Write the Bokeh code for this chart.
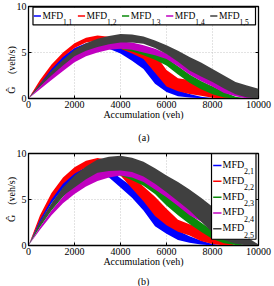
from bokeh.plotting import figure
from bokeh.layouts import column
from bokeh.models import FixedTicker, Range1d
from bokeh.core.properties import value
from bokeh.embed import file_html
from bokeh.resources import INLINE

# Accumulation sample points (veh)
acc = [0, 500, 1000, 1500, 2000, 2500, 3000, 3500, 4000, 4500, 5000,
       5500, 6000, 6500, 7000, 7500, 8000, 8500, 9000, 9500, 10000]

# Panel (a): lower / upper envelope of each MFD scatter band (veh/s)
mfd11_lo = [0, 1.5, 2.9, 4.1, 5.0, 5.5, 5.7, 5.4, 4.9, 4.1, 3.2, 1.6, 0.7, 0.25, 0.1, 0.02, 0, 0, 0, 0, 0]
mfd11_hi = [0, 1.8, 3.4, 4.6, 5.5, 6.0, 6.2, 6.0, 5.6, 5.0, 4.4, 2.9, 1.8, 0.9, 0.5, 0.2, 0.02, 0, 0, 0, 0]
mfd12_lo = [0, 1.6, 3.2, 4.5, 5.5, 6.1, 6.3, 6.0, 5.4, 4.9, 4.3, 2.8, 1.3, 0.8, 0.5, 0.3, 0.07, 0, 0, 0, 0]
mfd12_hi = [0, 2.0, 3.7, 5.0, 6.0, 6.6, 6.85, 6.7, 6.2, 5.9, 5.6, 4.8, 3.1, 2.2, 2.0, 1.7, 1.3, 0.6, 0, 0, 0]
mfd13_lo = [0, 1.3, 2.6, 3.7, 4.5, 5.1, 5.5, 5.6, 5.4, 5.1, 4.7, 4.2, 3.6, 2.6, 1.7, 1.0, 0.45, 0.1, 0, 0, 0]
mfd13_hi = [0, 1.5, 2.9, 4.0, 4.9, 5.5, 5.9, 6.0, 5.9, 5.7, 5.4, 4.9, 4.4, 3.5, 2.6, 1.9, 1.3, 0.7, 0.2, 0, 0]
mfd14_lo = [0, 1.0, 2.0, 3.0, 3.95, 4.6, 5.0, 5.3, 5.4, 5.3, 5.0, 4.7, 4.3, 3.5, 2.6, 1.9, 1.3, 0.6, 0.25, 0, 0]
mfd14_hi = [0, 1.3, 2.6, 3.8, 4.8, 5.5, 5.9, 6.1, 6.2, 6.1, 5.8, 5.4, 4.9, 4.1, 3.3, 2.6, 2.0, 1.4, 0.9, 0.5, 0.2]
mfd15_lo = [0, 1.3, 2.5, 3.6, 4.6, 5.2, 5.6, 5.9, 6.1, 6.1, 5.95, 5.5, 4.85, 4.0, 3.05, 2.4, 1.8, 1.1, 0.45, 0.1, 0]
mfd15_hi = [0, 1.6, 3.0, 4.2, 5.3, 6.0, 6.5, 6.8, 7.0, 6.95, 6.75, 6.3, 5.8, 5.2, 4.5, 3.9, 3.2, 2.5, 1.8, 1.4, 1.05]

# Panel (b)
mfd21_lo = [0, 2.5, 4.6, 6.2, 7.1, 7.7, 7.9, 7.4, 6.3, 5.2, 3.8, 2.1, 1.27, 0.6, 0.3, 0.1, 0, 0, 0, 0, 0]
mfd21_hi = [0, 3.0, 5.2, 6.9, 7.9, 8.5, 8.7, 8.3, 7.3, 6.4, 5.3, 3.8, 2.5, 1.6, 1.0, 0.55, 0.15, 0, 0, 0, 0]
mfd22_lo = [0, 2.8, 5.0, 6.7, 7.8, 8.5, 8.8, 8.5, 7.6, 6.2, 4.8, 3.2, 2.2, 1.5, 1.1, 0.5, 0.15, 0, 0, 0, 0]
mfd22_hi = [0, 3.3, 5.7, 7.4, 8.5, 9.2, 9.5, 9.3, 8.6, 7.5, 6.4, 5.3, 4.0, 2.8, 2.3, 1.9, 1.4, 0.6, 0, 0, 0]
mfd23_lo = [0, 2.0, 3.8, 5.3, 6.4, 7.2, 7.7, 7.8, 7.6, 7.1, 6.5, 5.6, 4.35, 3.3, 2.35, 1.5, 0.7, 0.25, 0.05, 0, 0]
mfd23_hi = [0, 2.4, 4.4, 6.0, 7.2, 8.0, 8.5, 8.6, 8.4, 7.9, 7.3, 6.5, 5.4, 4.4, 3.4, 2.5, 1.6, 0.9, 0.3, 0, 0]
mfd24_lo = [0, 1.7, 3.3, 4.6, 5.6, 6.4, 7.0, 7.4, 7.6, 7.4, 6.9, 6.1, 5.25, 4.3, 3.3, 2.6, 1.95, 1.2, 0.6, 0.1, 0]
mfd24_hi = [0, 2.0, 3.8, 5.3, 6.7, 7.5, 8.1, 8.4, 8.55, 8.3, 7.7, 7.0, 6.2, 5.1, 4.0, 3.3, 2.7, 1.9, 1.2, 0.6, 0.1]
mfd25_lo = [0, 2.2, 4.0, 5.4, 6.3, 7.2, 7.9, 8.1, 8.15, 8.0, 7.5, 6.7, 5.8, 4.8, 3.8, 2.6, 1.4, 0.6, 0.2, 0, 0]
mfd25_hi = [0, 2.6, 4.6, 6.3, 7.6, 8.6, 9.35, 9.65, 9.75, 9.55, 9.1, 8.4, 7.6, 6.9, 6.1, 5.2, 4.2, 3.1, 2.0, 0.9, 0.1]

colors = ["#0000ff", "#ff0000", "#0a8a0a", "#c000c0", "#404040"]
subs_a = ["1,1", "1,2", "1,3", "1,4", "1,5"]
subs_b = ["2,1", "2,2", "2,3", "2,4", "2,5"]
x_ticks = [0, 2000, 4000, 6000, 8000, 10000]
y_ticks = [0, 5, 10]

SERIF = "Liberation Serif"
NB = "\u00a0"
W = 274
X_MAX, Y_MAX = 10000, 10


def base_figure(height, border_left, border_top, border_bottom, y_label):
    p = figure(width=W, height=height, output_backend="svg", toolbar_location=None,
               x_range=Range1d(0, X_MAX), y_range=Range1d(0, Y_MAX),
               min_border_left=border_left, min_border_right=16,
               min_border_top=border_top, min_border_bottom=border_bottom)
    p.background_fill_color = "white"
    p.border_fill_color = "white"
    p.outline_line_color = "black"
    p.outline_line_width = 1.3
    p.xaxis.ticker = FixedTicker(ticks=x_ticks)
    p.yaxis.ticker = FixedTicker(ticks=y_ticks)
    for ax in p.xaxis + p.yaxis:
        ax.major_tick_in = 3
        ax.major_tick_out = 0
        ax.minor_tick_line_color = None
        ax.axis_line_color = "black"
        ax.major_tick_line_color = "black"
        ax.major_label_text_font = SERIF
        ax.major_label_text_font_size = "10px"
        ax.major_label_text_color = "black"
        ax.major_label_standoff = 2
        ax.axis_label_text_font = SERIF
        ax.axis_label_text_font_size = "10px"
        ax.axis_label_text_font_style = "normal"
        ax.axis_label_text_color = "black"
    p.xaxis.axis_label = "Accumulation (veh)"
    p.xaxis.axis_label_standoff = -2
    p.yaxis.axis_label = y_label
    p.yaxis.axis_label_standoff = -3
    p.grid.grid_line_color = "#b8b8b8"
    p.grid.grid_line_dash = "1 2"
    p.grid.grid_line_width = 0.8
    p.xgrid.ticker = FixedTicker(ticks=x_ticks)
    p.ygrid.ticker = FixedTicker(ticks=y_ticks)
    # mirrored inward tick marks on the top and right edges of the box
    p.segment(x0=x_ticks, y0=[Y_MAX] * len(x_ticks), x1=x_ticks,
              y1=[Y_MAX - 0.033 * Y_MAX] * len(x_ticks), line_color="black", line_width=1)
    p.segment(x0=[X_MAX] * len(y_ticks), y0=y_ticks, x1=[X_MAX - 0.013 * X_MAX] * len(y_ticks),
              y1=y_ticks, line_color="black", line_width=1)
    return p


def caption_strip(height, text, x_center, y_center):
    # thin strip holding the sub-figure caption, measured in pixels
    c = figure(width=W, height=height, output_backend="svg", toolbar_location=None,
               x_range=Range1d(0, W), y_range=Range1d(height, 0),
               x_axis_type=None, y_axis_type=None,
               min_border=0, min_border_left=0, min_border_right=0,
               min_border_top=0, min_border_bottom=0)
    c.outline_line_color = None
    c.grid.visible = False
    c.background_fill_color = "white"
    c.border_fill_color = "white"
    c.text(x=[x_center], y=[y_center], text=[text], text_font=value(SERIF),
           text_font_size="10px", text_align="center", text_baseline="middle",
           text_color="black")
    return c


def draw_bands(p, bands):
    for (lo, hi), c in zip(bands, colors):
        p.varea(x=acc, y1=lo, y2=hi, fill_color=c)


# ---------- panel (a) ----------
pa = base_figure(126, 27, 6, 28, "Ĝ" + NB * 5 + "(veh/s)" + NB * 14 + "\u200b")
draw_bands(pa, [(mfd11_lo, mfd11_hi), (mfd12_lo, mfd12_hi), (mfd13_lo, mfd13_hi),
                (mfd14_lo, mfd14_hi), (mfd15_lo, mfd15_hi)])

# horizontal legend box along the top
pa.quad(left=[195], right=[9870], bottom=[8.0], top=[9.93],
        fill_color="white", line_color="black", line_width=1.2)
step_a = 1918
for i, (c, s) in enumerate(zip(colors, subs_a)):
    x0 = 229 + i * step_a
    pa.segment(x0=[x0], y0=[8.97], x1=[x0 + 312], y1=[8.97], line_color=c, line_width=1.5)
    pa.text(x=[x0 + 380], y=[8.93], text=["MFD"], text_font=value(SERIF),
            text_font_size="9.5px", text_baseline="middle", text_align="left", text_color="black")
    pa.text(x=[x0 + 1270], y=[8.3], text=[s], text_font=value(SERIF),
            text_font_size="7.5px", text_baseline="middle", text_align="left", text_color="black")

cap_a = caption_strip(17, "(a)", 137.5, 11)

# ---------- panel (b) ----------
pb = base_figure(128, 28, 10, 26, "Ĝ" + NB * 4 + "(veh/s)")
draw_bands(pb, [(mfd21_lo, mfd21_hi), (mfd22_lo, mfd22_hi), (mfd23_lo, mfd23_hi),
                (mfd24_lo, mfd24_hi), (mfd25_lo, mfd25_hi)])

# vertical legend box in the upper right
pb.quad(left=[7957], right=[9891], bottom=[0.68], top=[9.98],
        fill_color="white", line_color="black", line_width=1.2)
step_b = 1.722
for i, (c, s) in enumerate(zip(colors, subs_b)):
    yl = 8.70 - i * step_b
    pb.segment(x0=[8030], y0=[yl], x1=[8391], y1=[yl], line_color=c, line_width=1.5)
    pb.text(x=[8435], y=[yl + 0.11], text=["MFD"], text_font=value(SERIF),
            text_font_size="10px", text_baseline="middle", text_align="left", text_color="black")
    pb.text(x=[9370], y=[yl - 0.65], text=[s], text_font=value(SERIF),
            text_font_size="8px", text_baseline="middle", text_align="left", text_color="black")

cap_b = caption_strip(15, "(b)", 137, 10)

layout = column(pa, cap_a, pb, cap_b, spacing=0)
open("out.html", "w").write(file_html(layout, INLINE))
